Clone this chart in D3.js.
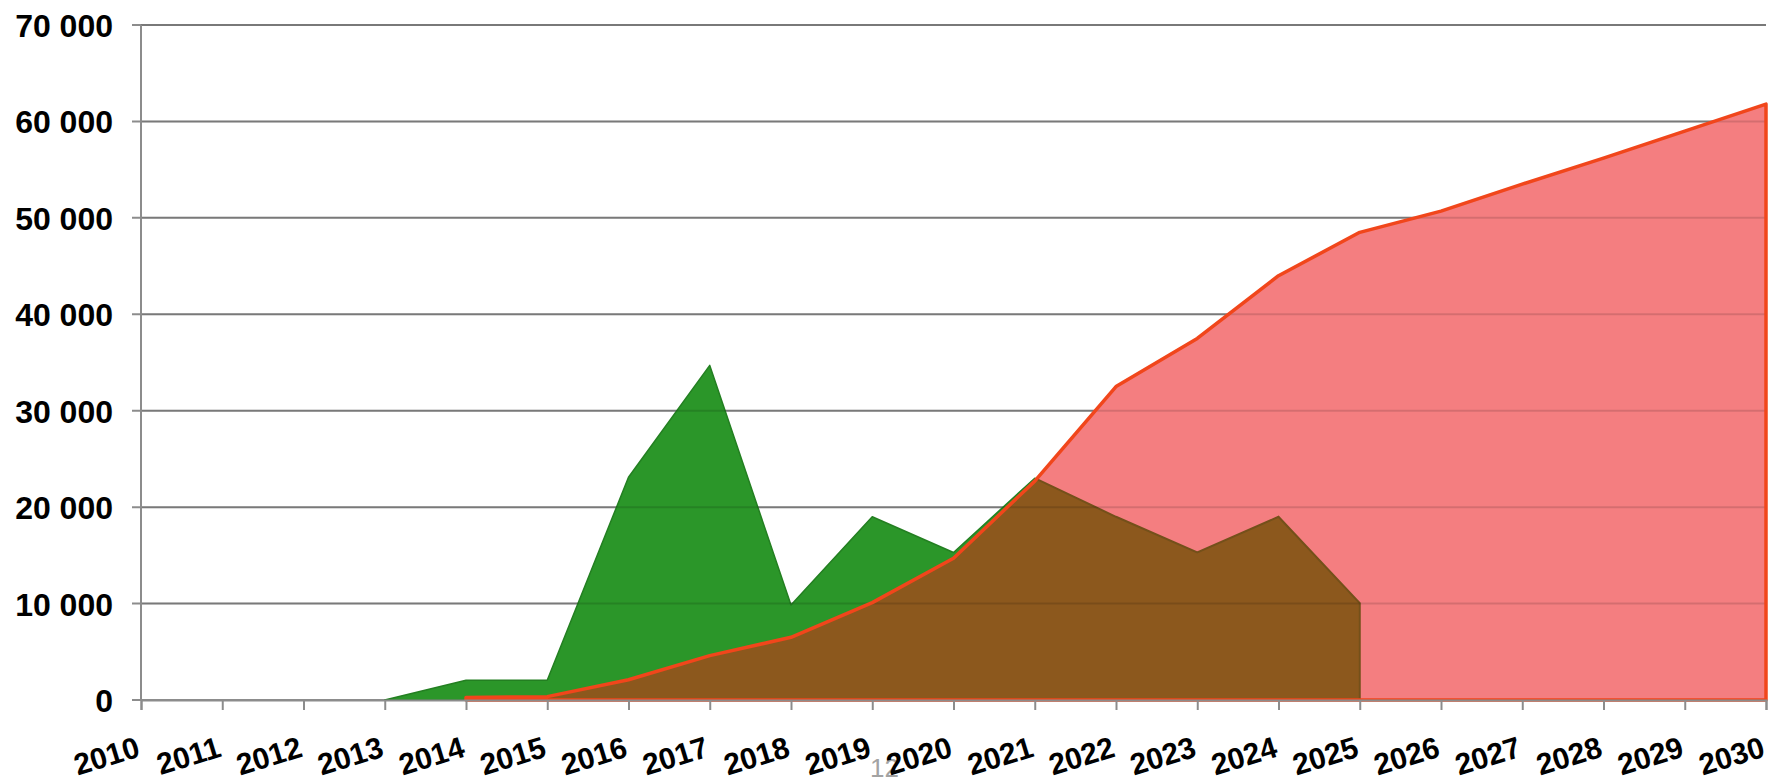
<!DOCTYPE html>
<html lang="en">
<head>
<meta charset="UTF-8" />
<title>index</title>
<script src="https://d3js.org/d3.v7.min.js"></script>
<style>
  body { margin: 0; background: #fff; }
  svg text { font-family: "Liberation Sans", Arial, sans-serif; font-weight: bold; }
</style>
</head>
<body>
<div id="my_dataviz"></div>
<script>
// data
const years = [2010, 2011, 2012, 2013, 2014, 2015, 2016, 2017, 2018, 2019, 2020,
               2021, 2022, 2023, 2024, 2025, 2026, 2027, 2028, 2029, 2030];
const greenValues = [null, null, null, 0, 2050, 2050, 23100, 34700, 9850, 19000, 15300,
                     23000, 19000, 15300, 19000, 10050, null, null, null, null, null];
const redValues = [null, null, null, null, 250, 350, 2100, 4600, 6500, 10100, 14700,
                   22700, 32500, 37500, 44000, 48500, 50700, 53500, 56200, 59000, 61800];
const yTicks = [0, 10000, 20000, 30000, 40000, 50000, 60000, 70000];
const yTickLabels = ["0", "10 000", "20 000", "30 000", "40 000", "50 000", "60 000", "70 000"];
const footerText = "12";

var margin = {top: 25, right: 5, bottom: 83, left: 141},
    width = 1771 - margin.left - margin.right,
    height = 783 - margin.top - margin.bottom;

var root = d3.select("#my_dataviz")
  .append("svg")
    .attr("width", 1771)
    .attr("height", 783);

// little page number sitting under the axis labels
root.append("text")
  .attr("x", 870)
  .attr("y", 777)
  .attr("fill", "#a3a3a3")
  .attr("font-size", 26)
  .style("font-weight", "normal")
  .text(footerText);

var svg = root.append("g")
    .attr("transform", "translate(" + margin.left + "," + margin.top + ")");

var x = d3.scaleLinear().domain([2010, 2030]).range([0, width]);
var y = d3.scaleLinear().domain([0, 70000]).range([height, 0]);

var green = years.map(function(d, i) { return {year: d, value: greenValues[i]}; });
var red = years.map(function(d, i) { return {year: d, value: redValues[i]}; });

var area = d3.area()
  .defined(function(d) { return d.value !== null; })
  .x(function(d) { return x(d.year); })
  .y0(height)
  .y1(function(d) { return y(d.value); });

// grid lines under everything
svg.append("g").selectAll("line")
  .data(yTicks)
  .enter().append("line")
    .attr("x1", -9).attr("x2", width)
    .attr("y1", function(d) { return y(d); })
    .attr("y2", function(d) { return y(d); })
    .attr("stroke", "#8c8c8c")
    .attr("stroke-width", 2);

svg.append("defs").append("clipPath")
    .attr("id", "redClip")
  .append("path")
    .attr("d", area(red));

// green area
svg.append("path")
  .attr("d", area(green))
  .attr("fill", "#2b9629")
  .attr("stroke", "#237f21")
  .attr("stroke-width", 1.5)
  .attr("stroke-linejoin", "round");

// pink area
svg.append("path")
  .attr("d", area(red))
  .attr("fill", "#f47e80");

// where green and pink overlap it turns brown
svg.append("path")
  .attr("d", area(green))
  .attr("clip-path", "url(#redClip)")
  .attr("fill", "#8c581d")
  .attr("stroke", "#74501a")
  .attr("stroke-width", 2);

// grid lines show faintly through the fills
svg.append("g").selectAll("line")
  .data(yTicks.slice(1))
  .enter().append("line")
    .attr("x1", 0).attr("x2", width)
    .attr("y1", function(d) { return y(d); })
    .attr("y2", function(d) { return y(d); })
    .attr("stroke", "#000")
    .attr("stroke-opacity", 0.13)
    .attr("stroke-width", 2);

// orange outline of the pink area
svg.append("path")
  .attr("d", area(red))
  .attr("fill", "none")
  .attr("stroke", "#f1461b")
  .attr("stroke-width", 3.5)
  .attr("stroke-linejoin", "round");

// y axis
var yAxis = svg.append("g")
  .call(d3.axisLeft(y)
    .tickValues(yTicks)
    .tickSize(0)
    .tickPadding(28)
    .tickFormat(function(d, i) { return yTickLabels[i]; }));
yAxis.select(".domain").remove();
yAxis.selectAll("text")
  .attr("font-size", 32)
  .attr("fill", "#000")
  .attr("dy", "0.36em");

svg.append("line")
  .attr("x1", 0).attr("x2", 0)
  .attr("y1", 0).attr("y2", height)
  .attr("stroke", "#8c8c8c")
  .attr("stroke-width", 2);

// x axis
var xAxis = svg.append("g")
  .attr("transform", "translate(0," + height + ")")
  .call(d3.axisBottom(x)
    .tickValues(years)
    .tickSize(10)
    .tickFormat(function(d) { return String(d); }));
xAxis.select(".domain")
  .attr("stroke", "#8c8c8c")
  .attr("stroke-width", 2);
xAxis.selectAll(".tick line")
  .attr("stroke", "#8c8c8c")
  .attr("stroke-width", 2);
xAxis.selectAll("text")
  .attr("font-size", 30)
  .attr("fill", "#000")
  .attr("text-anchor", "end")
  .attr("y", 0)
  .attr("dy", 0)
  .attr("transform", "translate(0,56) rotate(-17)");
</script>
</body>
</html>
